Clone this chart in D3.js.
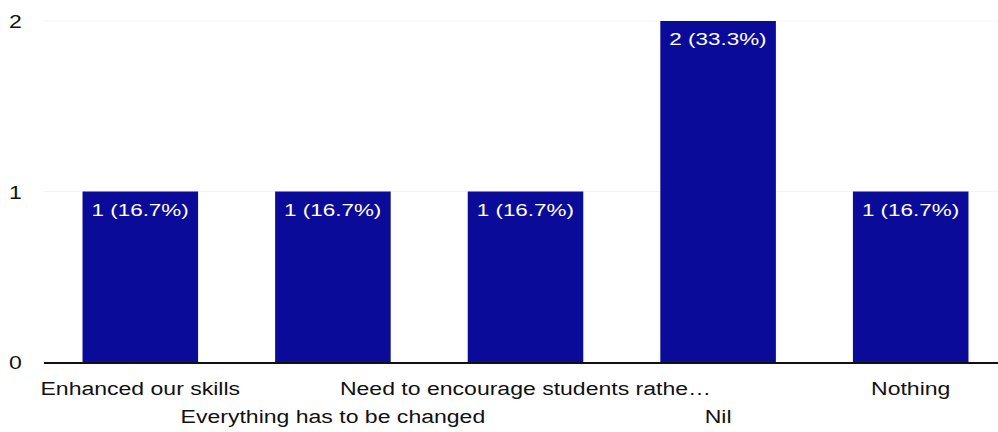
<!DOCTYPE html>
<html><head><meta charset="utf-8">
<script src="https://cdn.jsdelivr.net/npm/d3@7"></script>
<style>body{margin:0;background:#fff;} svg{display:block;font-family:"Liberation Sans",Arial,sans-serif;}</style>
</head><body>
<script>
const categories = ["Enhanced our skills","Everything has to be changed","Need to encourage students rathe\u2026","Nil","Nothing"];
const values = [1,1,1,2,1];
const valueLabels = ["1 (16.7%)","1 (16.7%)","1 (16.7%)","2 (33.3%)","1 (16.7%)"];
const yTicks = [0,1,2];

const W=998,H=432;
const SX=1.28;
const svg=d3.select("body").append("svg").attr("width",W).attr("height",H);
const x=d3.scaleBand().domain(categories).range([44,1007]).paddingInner(0.4).paddingOuter(0.2);
const y=d3.scaleLinear().domain([0,2]).range([362,21]);

// faint gridlines
svg.selectAll(".grid").data(yTicks.filter(d=>d>0)).enter().append("line")
 .attr("x1",44).attr("x2",W).attr("y1",d=>y(d)).attr("y2",d=>y(d))
 .attr("stroke","#f4f4f4").attr("stroke-width",1);

// y tick labels
svg.selectAll(".yt").data(yTicks).enter().append("text")
 .attr("transform",d=>`translate(9,${y(d)+7}) scale(${SX},1)`)
 .attr("font-size",18).attr("fill","#111").text(d=>d);

// bars
svg.selectAll(".bar").data(categories).enter().append("rect")
 .attr("x",d=>x(d)).attr("width",x.bandwidth())
 .attr("y",(d,i)=>y(values[i])).attr("height",(d,i)=>y(0)-y(values[i]))
 .attr("fill","#0b0b9a");

// value labels
svg.selectAll(".vl").data(categories).enter().append("text")
 .attr("transform",(d,i)=>`translate(${x(d)+9},${y(values[i])+24}) scale(1.32,1)`)
 .attr("font-size",17).attr("fill","#fff").text((d,i)=>valueLabels[i]);

// baseline
svg.append("line").attr("x1",44).attr("x2",W).attr("y1",y(0)+1).attr("y2",y(0)+1)
 .attr("stroke","#111").attr("stroke-width",2);

// category labels
svg.selectAll(".cl").data(categories).enter().append("text")
 .attr("transform",(d,i)=>`translate(${x(d)+x.bandwidth()/2},${i%2===0?395:423}) scale(${SX},1)`)
 .attr("text-anchor","middle").attr("font-size",18).attr("fill","#111").text(d=>d);
</script>
</body></html>
